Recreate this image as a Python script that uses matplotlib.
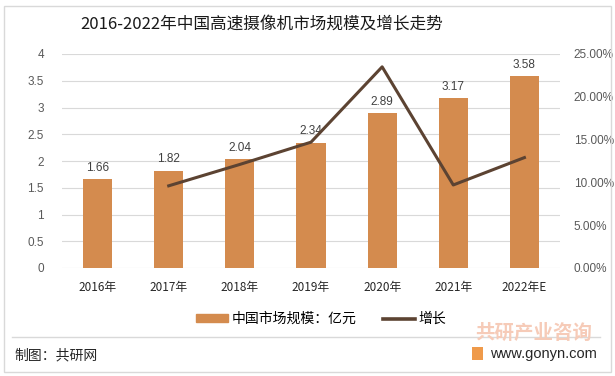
import matplotlib
matplotlib.use("Agg")
import matplotlib.pyplot as plt
from matplotlib.patches import Rectangle
from matplotlib.lines import Line2D
import numpy as np

plt.rcParams['font.family'] = ['Noto Sans CJK SC', 'DejaVu Sans']

years = ["2016年", "2017年", "2018年", "2019年", "2020年", "2021年", "2022年E"]
market_size = [1.66, 1.82, 2.04, 2.34, 2.89, 3.17, 3.58]
growth_years = years[1:]
growth = [9.6, 12.1, 14.7, 23.5, 9.7, 12.9]  # percent
left_ticks = [0, 0.5, 1, 1.5, 2, 2.5, 3, 3.5, 4]
right_ticks = [0, 5, 10, 15, 20, 25]

title = "2016-2022年中国高速摄像机市场规模及增长走势"
bar_label = "中国市场规模：亿元"
line_label = "增长"

NUM_FONT = "Liberation Sans"

W, H = 615, 376
fig = plt.figure(figsize=(W/100, H/100), dpi=100)
fig.patch.set_facecolor("white")

# outer border
fig.add_artist(Rectangle((4/W, 4/H), 1-8/W, 1-10/H, transform=fig.transFigure,
                         fill=False, edgecolor="#d9d9d9", linewidth=1))

ax = fig.add_axes([62/W, 1-268/H, (560-62)/W, (268-54)/H])
x = np.arange(len(years))
bar_color = "#D48B4E"
line_color = "#5C4332"

ax.bar(x, market_size, width=0.41, color=bar_color, zorder=2)
for xi, v in zip(x, market_size):
    ax.text(xi, v + 0.1, f"{v:.2f}", ha="center", va="bottom", fontsize=8.5, color="#404040",
            family=NUM_FONT)

ax.set_ylim(0, 4)
ax.set_xlim(-0.5, len(years) - 0.5)
ax.set_yticks(left_ticks)
ax.set_yticklabels([f"{t:g}" for t in left_ticks], fontsize=8.5, color="#595959", family=NUM_FONT)
ax.set_xticks(x)
ax.set_xticklabels(years, fontsize=8.5, color="#262626")
ax.tick_params(axis="y", length=0, pad=13)
ax.tick_params(axis="x", length=0, pad=9)
ax.grid(axis="y", color="#d9d9d9", linewidth=0.8, zorder=0)
for s in ax.spines.values():
    s.set_visible(False)

ax2 = ax.twinx()
gx = np.arange(1, len(years))
ax2.plot(gx, growth, color=line_color, linewidth=2.2, zorder=3)
ax2.set_ylim(0, 25)
ax2.set_yticks(right_ticks)
ax2.set_yticklabels([f"{t:.2f}%" for t in right_ticks], fontsize=8.5, color="#595959", family=NUM_FONT)
ax2.tick_params(axis="y", length=0, pad=10)
for s in ax2.spines.values():
    s.set_visible(False)

fig.text(262/W, 1-24/H, title, ha="center", va="center", fontsize=12, color="#1a1a1a")

# legend
handles = [Rectangle((0, 0), 1, 1, color=bar_color),
           Line2D([0], [0], color=line_color, linewidth=2.6)]
fig.legend(handles, [bar_label, line_label], loc="center", bbox_to_anchor=(321/W, 1-319/H),
           ncol=2, frameon=False, fontsize=10, handlelength=2.3, handleheight=0.5,
           columnspacing=1.9, handletextpad=0.25)

# separator line and footer
fig.add_artist(Line2D([12/W, 600/W], [1-337/H, 1-337/H], transform=fig.transFigure,
                      color="#d9d9d9", linewidth=1))
fig.text(14/W, 1-355/H, "制图：共研网", ha="left", va="center", fontsize=10, color="#262626")
fig.text(534/W, 1-333/H, "共研产业咨询", ha="center", va="center", fontsize=14,
         color="#f6cbb8", fontweight="bold")
fig.add_artist(Rectangle((472/W, 1-360/H), 11/W, 13/H, transform=fig.transFigure,
                         facecolor="#ef9a4a", edgecolor="none"))
fig.text(490/W, 1-354/H, "www.gonyn.com", ha="left", va="center", fontsize=10.5,
         color="#262626", family=NUM_FONT)

fig.savefig("out.png", dpi=100)
